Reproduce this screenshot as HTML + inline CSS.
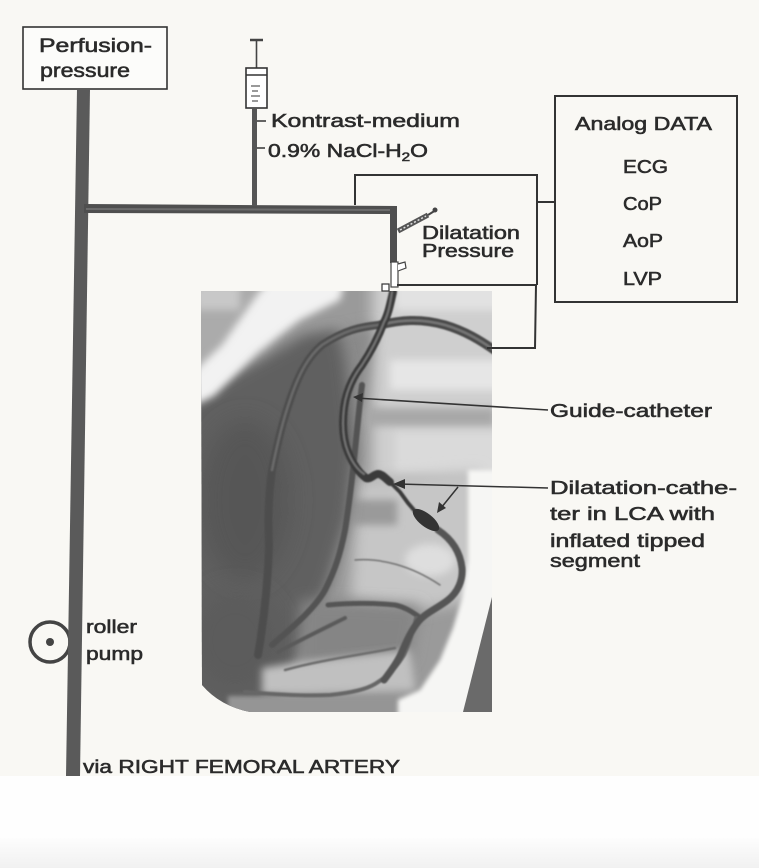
<!DOCTYPE html>
<html><head><meta charset="utf-8">
<style>
html,body{margin:0;padding:0;background:#fff;width:759px;height:868px;overflow:hidden}
svg{display:block}
text{font-family:"Liberation Sans",Arial,sans-serif;fill:#2b2b2b;stroke:#2b2b2b;stroke-width:0.55px;}
</style></head><body>
<svg width="759" height="868" viewBox="0 0 759 868" xmlns="http://www.w3.org/2000/svg">
<defs>
 <linearGradient id="bot" x1="0" y1="0" x2="0" y2="1">
  <stop offset="0" stop-color="#fdfdfd"/><stop offset="1" stop-color="#f1f1f1"/>
 </linearGradient>
 <filter id="b12" x="-50%" y="-50%" width="200%" height="200%"><feGaussianBlur stdDeviation="12"/></filter>
 <filter id="b7" x="-50%" y="-50%" width="200%" height="200%"><feGaussianBlur stdDeviation="7"/></filter>
 <filter id="b4" x="-50%" y="-50%" width="200%" height="200%"><feGaussianBlur stdDeviation="4"/></filter>
 <filter id="b2" x="-50%" y="-50%" width="200%" height="200%"><feGaussianBlur stdDeviation="2"/></filter>
 <filter id="b1" x="-20%" y="-20%" width="140%" height="140%"><feGaussianBlur stdDeviation="0.8"/></filter>
 <clipPath id="img"><path d="M201,291 L492,291 L492,712 L250,712 Q220,706 202,685 Z"/></clipPath>
</defs>

<!-- background -->
<rect width="759" height="868" fill="#fefefe"/>
<rect width="759" height="776" fill="#f9f8f4"/>
<rect y="838" width="759" height="30" fill="url(#bot)"/>

<!-- angiogram -->
<g clip-path="url(#img)">
 <rect x="195" y="285" width="300" height="430" fill="#9a9a9a"/>
 <rect x="170" y="270" width="100" height="120" fill="#ababab" filter="url(#b7)"/>
 <rect x="372" y="270" width="140" height="210" fill="#cfcfcf" filter="url(#b7)"/>
 <rect x="395" y="282" width="110" height="28" fill="#e2e2e2" filter="url(#b4)"/>
 <rect x="390" y="360" width="115" height="30" fill="#e6e6e6" filter="url(#b4)"/>
 <rect x="365" y="408" width="130" height="18" fill="#a8a8a8" filter="url(#b4)"/>
 <rect x="395" y="432" width="105" height="40" fill="#dadada" filter="url(#b4)"/>
 <path d="M300,340 L375,325 L365,380 L350,450 L330,460 L300,420 Z" fill="#8a8a8a" filter="url(#b7)"/>
 <path d="M358,480 L480,470 L480,600 L420,610 L350,600 Z" fill="#c6c6c6" filter="url(#b7)"/>
 <rect x="352" y="500" width="45" height="25" fill="#9a9a9a" filter="url(#b4)"/>
 <ellipse cx="430" cy="560" rx="25" ry="16" fill="#dedede" filter="url(#b4)"/>
 <!-- dark mass -->
 <path d="M165,410 L262,358 L305,335 L338,330 L345,360 L355,452 L348,518 L328,585 L312,618 L295,668 L262,720 L165,720 Z" fill="#606060" filter="url(#b7)"/>
 <ellipse cx="245" cy="500" rx="45" ry="80" fill="#575757" filter="url(#b12)"/>
 <ellipse cx="235" cy="640" rx="45" ry="50" fill="#5c5c5c" filter="url(#b12)"/>
 <path d="M300,600 L420,605 L410,660 L300,668 Z" fill="#858585" filter="url(#b7)"/>
 <path d="M262,668 L300,662 L410,650 L415,690 L262,695 Z" fill="#c0c0c0" filter="url(#b4)"/>
 <rect x="228" y="696" width="170" height="25" fill="#959595" filter="url(#b2)"/>
 <path d="M185,410 L214,396 L258,352 L300,320 L340,300 L345,280 L268,280 L250,305 L222,345 L185,380 Z" fill="#f2f2f2" filter="url(#b4)"/>
 <rect x="195" y="285" width="45" height="25" fill="#c8c8c8" filter="url(#b4)"/>
 <path d="M468,470 L500,470 L500,720 L398,720 L398,700 L420,690 L440,660 L453,628 L462,598 L468,560 Z" fill="#f6f6f4" filter="url(#b2)"/>
 <polygon points="492,597 493,712 463,712" fill="#6a6a6a"/>
 <!-- vessels -->
 <g fill="none" stroke-linecap="round" filter="url(#b1)">
  <path d="M380,325 C400,320 420,318 445,325 C465,331 480,340 497,352" stroke="#4a4a4a" stroke-width="9"/>
  <path d="M384,324 C400,320 420,318 445,325 C465,331 480,340 497,352" stroke="#767676" stroke-width="2.5"/>
  <path d="M378,325 C360,327 345,330 322,345 C310,355 300,370 290,400 C283,420 276,450 272,470 C268,500 268,520 269,545 C268,580 264,620 258,655" stroke="#4e4e4e" stroke-width="8"/>
  <path d="M378,325 C360,327 345,330 322,345 C310,355 300,370 290,400 C283,420 276,450 272,470" stroke="#6a6a6a" stroke-width="2.5"/>
  <path d="M362,385 C360,400 358,420 355,450 C352,480 349,505 345,530 C340,555 335,570 325,590 C315,608 295,625 272,645" stroke="#525252" stroke-width="6"/>
  <path d="M328,605 C350,603 375,603 395,605 C405,607 412,612 418,616" stroke="#555" stroke-width="5"/>
  <path d="M278,652 C300,640 325,628 345,618" stroke="#5a5a5a" stroke-width="4"/>
  <path d="M245,692 C280,695 310,696 330,695 C350,693 365,690 375,684 C390,675 398,665 404,655 C410,642 414,628 416,618" stroke="#666" stroke-width="4"/>
  <path d="M285,670 C320,660 360,655 395,648" stroke="#6c6c6c" stroke-width="2.5"/>
  <path d="M355,560 C380,558 410,565 440,585" stroke="#707070" stroke-width="1.5"/>
  <path d="M438,530 C450,538 460,550 462,568 C463,580 458,592 448,600 C438,608 425,613 418,622 C410,632 405,645 400,656 C395,666 390,672 384,680" stroke="#555" stroke-width="7"/>
  <path d="M393,292 C390,305 388,315 384,322 C378,338 372,350 362,365 C352,378 346,392 344,408 C342,425 343,440 348,452 C352,462 358,472 366,478 C370,480 374,474 378,474 C382,474 385,478 390,482" stroke="#3a3a3a" stroke-width="8"/>
  <path d="M392,292 C390,305 388,315 384,322 C378,338 372,350 362,365 C352,378 346,392 344,408 C342,425 343,440 348,452 C352,462 358,470 364,474" stroke="#767676" stroke-width="2"/>
  <path d="M390,482 L400,492 L408,503 L414,510" stroke="#3a3a3a" stroke-width="4"/>
 </g>
 <ellipse cx="426" cy="520" rx="16" ry="6.5" transform="rotate(38 426 520)" fill="#333"/>
</g>

<!-- Perfusion box -->
<rect x="23" y="27" width="144" height="62" fill="#fcfcfa" stroke="#333" stroke-width="1.6"/>
<text x="39" y="52" font-size="19" textLength="113" lengthAdjust="spacingAndGlyphs">Perfusion-</text>
<text x="40" y="77" font-size="19" textLength="90" lengthAdjust="spacingAndGlyphs">pressure</text>

<!-- roller pump -->
<circle cx="50" cy="642" r="20" fill="none" stroke="#444" stroke-width="3.5"/>
<circle cx="50" cy="642" r="4" fill="#444"/>

<!-- main vertical thick tube -->
<polygon points="77,89 90,89 80,776 66,776" fill="#5a5a5a"/>
<!-- horizontal thick tube -->
<polygon points="84,204 397,206 397,214 84,213" fill="#4f4f4f"/>
<line x1="86" y1="209" x2="394" y2="210" stroke="#6c6c6c" stroke-width="2"/>
<!-- right vertical tube -->
<rect x="390" y="208" width="7" height="55" fill="#4f4f4f"/>
<!-- connector white tube -->
<rect x="391" y="262" width="7" height="25" fill="#fff" stroke="#444" stroke-width="1.2"/>
<path d="M398,264 L405,262 L406,268 L398,271" fill="#fff" stroke="#444" stroke-width="1.2"/>
<rect x="382" y="284" width="7" height="7" fill="#fff" stroke="#333" stroke-width="1.2"/>

<!-- syringe top -->
<line x1="250" y1="40" x2="263" y2="40" stroke="#444" stroke-width="2.5"/>
<line x1="256.5" y1="40" x2="256.5" y2="68" stroke="#444" stroke-width="1.6"/>
<rect x="246" y="68" width="21" height="40" fill="#fff" stroke="#333" stroke-width="1.6"/>
<line x1="246" y1="75" x2="267" y2="75" stroke="#333" stroke-width="1.4"/>
<g stroke="#555" stroke-width="1.2">
 <line x1="251" y1="86" x2="260" y2="86"/><line x1="252" y1="91" x2="258" y2="91"/>
 <line x1="251" y1="96" x2="260" y2="96"/><line x1="252" y1="101" x2="258" y2="101"/>
</g>
<rect x="252" y="108" width="5" height="98" fill="#555"/>
<line x1="257" y1="121" x2="266" y2="121" stroke="#333" stroke-width="1.5"/>
<line x1="257" y1="148" x2="265" y2="148" stroke="#333" stroke-width="1.5"/>
<text x="271" y="127" font-size="18" textLength="189" lengthAdjust="spacingAndGlyphs">Kontrast-medium</text>
<text x="268" y="157" font-size="18" textLength="160" lengthAdjust="spacingAndGlyphs">0.9% NaCl-H<tspan font-size="12" dy="4">2</tspan><tspan dy="-4">O</tspan></text>

<!-- small dilatation syringe -->
<line x1="398" y1="231" x2="428" y2="215" stroke="#555" stroke-width="5"/>
<line x1="400" y1="230" x2="426" y2="216" stroke="#ddd" stroke-width="1.5" stroke-dasharray="2 2"/>
<line x1="428" y1="215" x2="436" y2="210" stroke="#444" stroke-width="2"/>
<circle cx="435" cy="210" r="2.5" fill="#444"/>

<!-- dilatation box lines -->
<g fill="none" stroke="#333" stroke-width="2">
 <path d="M355,205 L355,175 L537,175 L537,285"/>
 <path d="M397,285 L537,285"/>
 <path d="M536,285 L535,348 L487,348"/>
 <path d="M537,202 L555,202"/>
 <rect x="555" y="96" width="182" height="206"/>
</g>
<text x="422" y="239" font-size="18" textLength="98" lengthAdjust="spacingAndGlyphs">Dilatation</text>
<text x="422" y="257" font-size="18" textLength="92" lengthAdjust="spacingAndGlyphs">Pressure</text>

<!-- Analog data -->
<text x="575" y="130" font-size="18" textLength="137" lengthAdjust="spacingAndGlyphs">Analog DATA</text>
<text x="623" y="173" font-size="18" textLength="45" lengthAdjust="spacingAndGlyphs">ECG</text>
<text x="623" y="210" font-size="18" textLength="39" lengthAdjust="spacingAndGlyphs">CoP</text>
<text x="623" y="247" font-size="18" textLength="40" lengthAdjust="spacingAndGlyphs">AoP</text>
<text x="623" y="285" font-size="18" textLength="39" lengthAdjust="spacingAndGlyphs">LVP</text>

<!-- leaders -->
<g stroke="#333" stroke-width="1.5" fill="none">
 <line x1="356" y1="398" x2="548" y2="410"/>
 <line x1="398" y1="484" x2="548" y2="488"/>
 <line x1="458" y1="487" x2="441" y2="508"/>
</g>
<polygon points="353,397 363,393 362,402" fill="#333"/>
<polygon points="393,484 405,479 405,489" fill="#333"/>
<polygon points="437,513 439,502 446,508" fill="#333"/>

<text x="550" y="417" font-size="18" textLength="162" lengthAdjust="spacingAndGlyphs">Guide-catheter</text>
<text x="550" y="494" font-size="18" textLength="187" lengthAdjust="spacingAndGlyphs">Dilatation-cathe-</text>
<text x="550" y="520" font-size="18" textLength="165" lengthAdjust="spacingAndGlyphs">ter in LCA with</text>
<text x="550" y="547" font-size="18" textLength="155" lengthAdjust="spacingAndGlyphs">inflated tipped</text>
<text x="550" y="567" font-size="18" textLength="90" lengthAdjust="spacingAndGlyphs">segment</text>

<text x="86" y="633" font-size="18" textLength="51" lengthAdjust="spacingAndGlyphs">roller</text>
<text x="86" y="660" font-size="18" textLength="57" lengthAdjust="spacingAndGlyphs">pump</text>

<text x="83" y="773" font-size="18" textLength="317" lengthAdjust="spacingAndGlyphs">via RIGHT FEMORAL ARTERY</text>
</svg>
</body></html>
